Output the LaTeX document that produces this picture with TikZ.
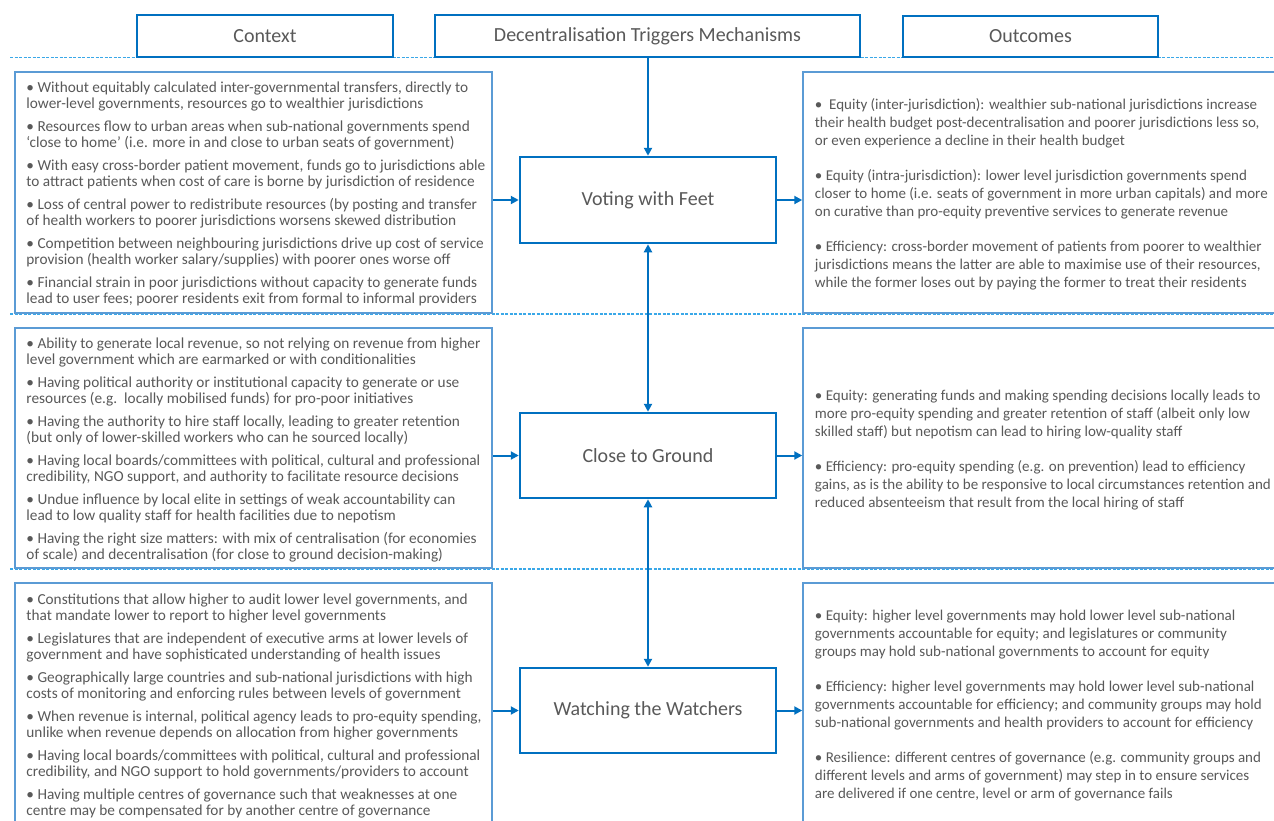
\documentclass[tikz,border=0pt]{standalone}
\usepackage{fontspec}
\setmainfont{Carlito}
\usetikzlibrary{arrows.meta}
\definecolor{hb}{HTML}{0070C0}
\definecolor{lb}{HTML}{5B9BD5}
\definecolor{dl}{HTML}{3AA8E8}
\definecolor{tx}{HTML}{595959}
\begin{document}
\begin{tikzpicture}[x=1pt,y=-1pt,
 heavybox/.style={draw=hb, line width=2.5pt, fill=white, inner sep=0pt},
 lightbox/.style={draw=lb, line width=1.5pt, fill=white, inner sep=0pt},
 head/.style={text=tx, font=\fontsize{20}{22}\selectfont},
 mech/.style={text=tx, font=\fontsize{20}{22}\selectfont},
 ltext/.style={text=tx, align=left, inner sep=0pt, font=\fontsize{15.3}{16}\selectfont, anchor=west},
 rtext/.style={text=tx, align=left, inner sep=0pt, font=\fontsize{15}{18}\selectfont, anchor=west},
 arr/.style={draw=hb, line width=2pt, -{Triangle[length=8pt,width=8pt]}},
 darr/.style={draw=hb, line width=2pt, {Triangle[length=8pt,width=8pt]}-{Triangle[length=8pt,width=8pt]}},
 sep/.style={draw=dl, line width=1.2pt, dash pattern=on 3pt off 1.5pt}
]
\clip (0,0) rectangle (1274,820);
\fill[white] (0,0) rectangle (1274,820);
% separators
\draw[sep] (10,57.5) -- (1274,57.5);
\draw[sep] (10,314) -- (1274,314);
\draw[sep] (10,569) -- (1274,569);
% headers
\node[heavybox, head, minimum width=256pt, minimum height=42pt] (ctx) at (265,36) {Context};
\node[heavybox, head, minimum width=425pt, minimum height=42pt] (dec) at (647.5,36) {Decentralisation Triggers Mechanisms};
\node[heavybox, head, minimum width=255pt, minimum height=41pt] (out) at (1030.5,36.5) {Outcomes};
% left boxes
\node[lightbox, minimum width=477pt, minimum height=241pt] (lb1) at (253.5,192.5) {};
\node[lightbox, minimum width=477pt, minimum height=240pt] (lb2) at (253.5,448) {};
\node[lightbox, minimum width=477pt, minimum height=242pt] (lb3) at (253.5,704) {};
% right boxes
\node[lightbox, minimum width=487pt, minimum height=241pt] (rb1) at (1046.5,192.5) {};
\node[lightbox, minimum width=487pt, minimum height=240pt] (rb2) at (1046.5,448) {};
\node[lightbox, minimum width=487pt, minimum height=242pt] (rb3) at (1046.5,704) {};
% mechanism boxes
\node[heavybox, mech, minimum width=256pt, minimum height=86pt] (vwf) at (648,200) {Voting with Feet};
\node[heavybox, mech, minimum width=256pt, minimum height=85pt] (ctg) at (648,455.5) {Close to Ground};
\node[heavybox, mech, minimum width=256pt, minimum height=85pt] (wtw) at (648,710.5) {Watching the Watchers};
% left texts
\node[ltext] (lt1) at ([xshift=12pt,yshift=-1.5pt]lb1.west) {%
• Without equitably calculated inter-governmental transfers, directly to\\
lower-level governments, resources go to wealthier jurisdictions\\[7pt]
• Resources flow to urban areas when sub-national governments spend\\
‘close to home’ (i.e. more in and close to urban seats of government)\\[7pt]
• With easy cross-border patient movement, funds go to jurisdictions able\\
to attract patients when cost of care is borne by jurisdiction of residence\\[7pt]
• Loss of central power to redistribute resources (by posting and transfer\\
of health workers to poorer jurisdictions worsens skewed distribution\\[7pt]
• Competition between neighbouring jurisdictions drive up cost of service\\
provision (health worker salary/supplies) with poorer ones worse off\\[7pt]
• Financial strain in poor jurisdictions without capacity to generate funds\\
lead to user fees; poorer residents exit from formal to informal providers};
\node[ltext] (lt2) at ([xshift=12pt,yshift=-1.5pt]lb2.west) {%
• Ability to generate local revenue, so not relying on revenue from higher\\
level government which are earmarked or with conditionalities\\[7pt]
• Having political authority or institutional capacity to generate or use\\
resources (e.g.\ \ locally mobilised funds) for pro-poor initiatives\\[7pt]
• Having the authority to hire staff locally, leading to greater retention\\
(but only of lower-skilled workers who can he sourced locally)\\[7pt]
• Having local boards/committees with political, cultural and professional\\
credibility, NGO support, and authority to facilitate resource decisions\\[7pt]
• Undue influence by local elite in settings of weak accountability can\\
lead to low quality staff for health facilities due to nepotism\\[7pt]
• Having the right size matters: with mix of centralisation (for economies\\
of scale) and decentralisation (for close to ground decision-making)};
\node[ltext] (lt3) at ([xshift=12pt,yshift=-1.5pt]lb3.west) {%
• Constitutions that allow higher to audit lower level governments, and\\
that mandate lower to report to higher level governments\\[7pt]
• Legislatures that are independent of executive arms at lower levels of\\
government and have sophisticated understanding of health issues\\[7pt]
• Geographically large countries and sub-national jurisdictions with high\\
costs of monitoring and enforcing rules between levels of government\\[7pt]
• When revenue is internal, political agency leads to pro-equity spending,\\
unlike when revenue depends on allocation from higher governments\\[7pt]
• Having local boards/committees with political, cultural and professional\\
credibility, and NGO support to hold governments/providers to account\\[7pt]
• Having multiple centres of governance such that weaknesses at one\\
centre may be compensated for by another centre of governance};
% right texts
\node[rtext] (rt1) at ([xshift=12.5pt,yshift=-2pt]rb1.west) {%
•\ \ Equity (inter-jurisdiction): wealthier sub-national jurisdictions increase\\
their health budget post-decentralisation and poorer jurisdictions less so,\\
or even experience a decline in their health budget\\[17pt]
• Equity (intra-jurisdiction): lower level jurisdiction governments spend\\
closer to home (i.e. seats of government in more urban capitals) and more\\
on curative than pro-equity preventive services to generate revenue\\[17pt]
• Efficiency: cross-border movement of patients from poorer to wealthier\\
jurisdictions means the latter are able to maximise use of their resources,\\
while the former loses out by paying the former to treat their residents};
\node[rtext] (rt2) at ([xshift=12.5pt,yshift=-2pt]rb2.west) {%
• Equity: generating funds and making spending decisions locally leads to\\
more pro-equity spending and greater retention of staff (albeit only low\\
skilled staff) but nepotism can lead to hiring low-quality staff\\[17pt]
• Efficiency: pro-equity spending (e.g. on prevention) lead to efficiency\\
gains, as is the ability to be responsive to local circumstances retention and\\
reduced absenteeism that result from the local hiring of staff};
\node[rtext] (rt3) at ([xshift=12.5pt,yshift=-2pt]rb3.west) {%
• Equity: higher level governments may hold lower level sub-national\\
governments accountable for equity; and legislatures or community\\
groups may hold sub-national governments to account for equity\\[17pt]
• Efficiency: higher level governments may hold lower level sub-national\\
governments accountable for efficiency; and community groups may hold\\
sub-national governments and health providers to account for efficiency\\[17pt]
• Resilience: different centres of governance (e.g. community groups and\\
different levels and arms of government) may step in to ensure services\\
are delivered if one centre, level or arm of governance fails};
% connectors
\draw[arr] (dec.south -| vwf.north) -- (vwf.north);
\draw[darr] (vwf.south) -- (ctg.north);
\draw[darr] (ctg.south) -- (wtw.north);
\draw[arr] (lb1.east |- vwf.west) -- (vwf.west);
\draw[arr] (lb2.east |- ctg.west) -- (ctg.west);
\draw[arr] (lb3.east |- wtw.west) -- (wtw.west);
\draw[arr] (vwf.east) -- (rb1.west |- vwf.east);
\draw[arr] (ctg.east) -- (rb2.west |- ctg.east);
\draw[arr] (wtw.east) -- (rb3.west |- wtw.east);
\end{tikzpicture}
\end{document}
